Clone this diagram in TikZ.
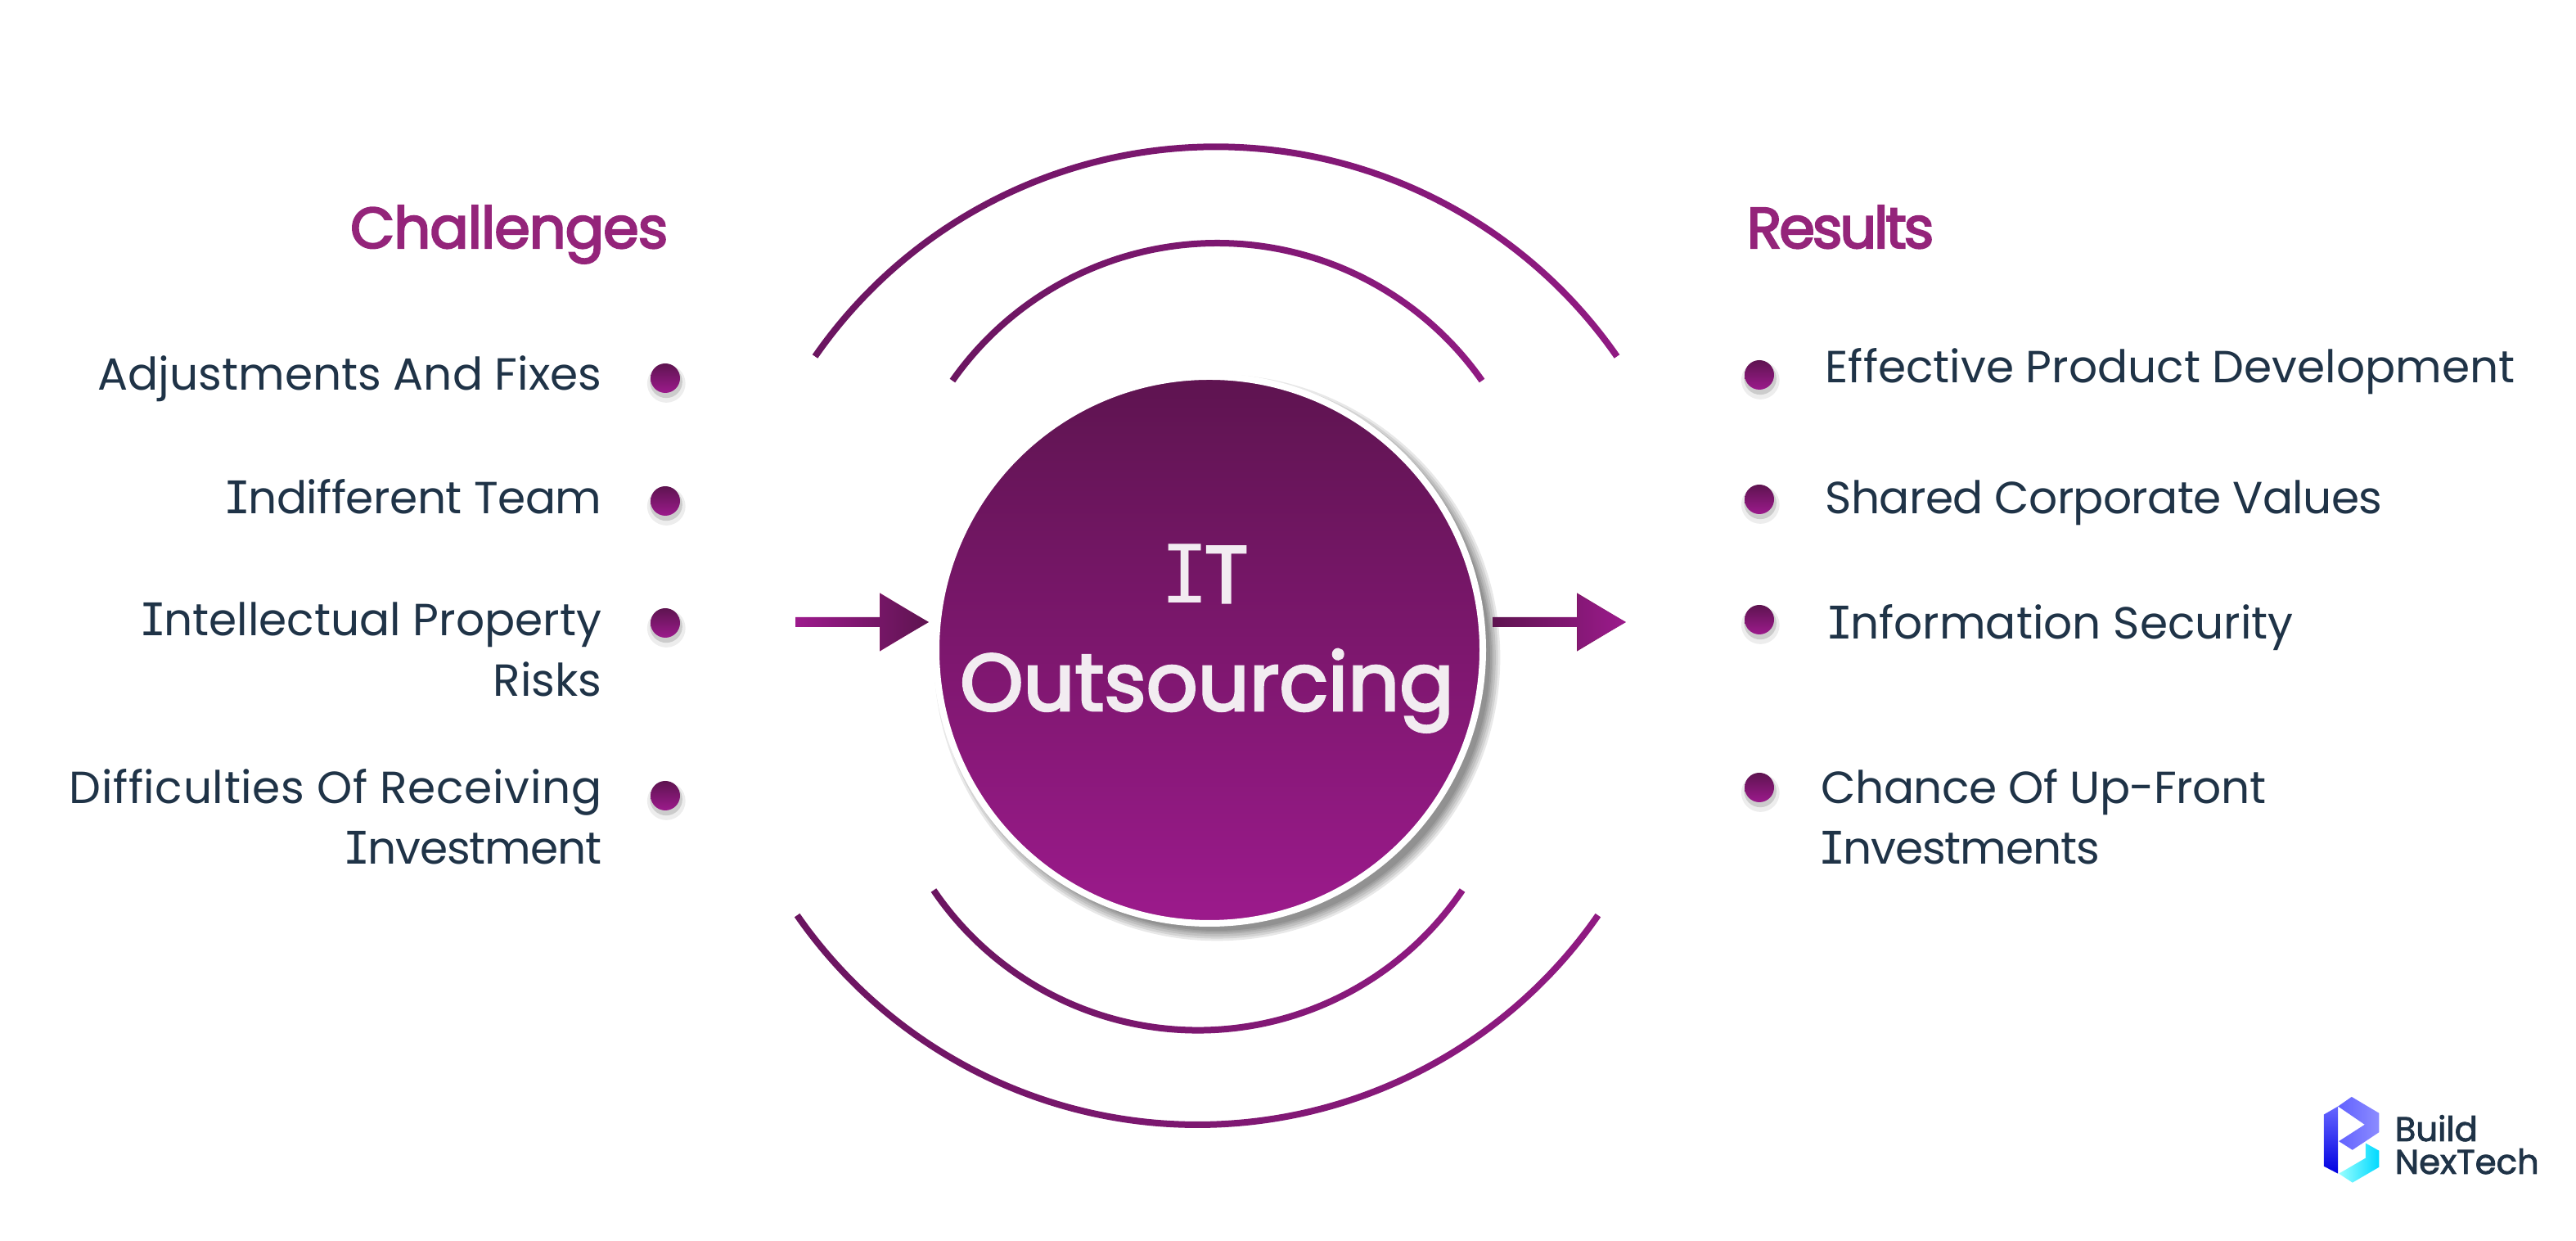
\documentclass[tikz,border=0pt]{standalone}
\usepackage{fontspec}
\setmainfont{Poppins}
\newfontfamily\slabfont{DejaVu Sans Mono}
\usepackage{xcolor}
\usetikzlibrary{shadows, arrows.meta, positioning}

\definecolor{plumdark}{HTML}{5E1450}
\definecolor{plummid}{HTML}{7F1763}
\definecolor{plumlight}{HTML}{9C1A8C}
\definecolor{arcleft}{HTML}{6B1560}
\definecolor{arcright}{HTML}{901A82}
\definecolor{headcol}{HTML}{94247A}
\definecolor{inkcol}{HTML}{1F3347}

% slab capital I of the label font
\newcommand{\slabI}{{\slabfont\kern-.06em I\kern-.06em}}
% letter spacing of one label
\newcommand{\ls}[1]{\addfontfeature{LetterSpace=#1}}
% arc as a thin shaded sector: centre, radius, start, end
\newcommand{\ringarc}[4]{%
    \shade[left color=arcleft, right color=arcright]
        ([shift={(#1)}]#3:{#2+.04}) arc[start angle=#3, end angle=#4, radius=#2+.04]
        -- ([shift={(#1)}]#4:{#2-.04}) arc[start angle=#4, end angle=#3, radius=#2-.04] -- cycle;}

\begin{document}
\begin{tikzpicture}[
    hubshadow/.style={general shadow={shadow xshift=.09cm, shadow yshift=-.09cm, shadow scale=#1, opacity=.09, fill=black}},
    hub/.style={circle, draw=white, line width=.08cm, minimum size=6.68cm, inner sep=0, outer sep=0,
        top color=plumdark, bottom color=plumlight,
        hubshadow=1.036, hubshadow=1.028, hubshadow=1.02, hubshadow=1.012, hubshadow=1.006, hubshadow=1},
    hubtext/.style={font=\fontsize{28}{37.5}\selectfont\addfontfeature{FakeBold=3}, text=white!92!plumdark, align=center},
    dot/.style={circle, minimum size=.36cm, inner sep=0, top color=plumdark, bottom color=plumlight,
        general shadow={shadow xshift=.01cm, shadow yshift=-.05cm, shadow scale=1.3, opacity=.07, fill=black},
        general shadow={shadow xshift=.01cm, shadow yshift=-.04cm, shadow scale=1.1, opacity=.14, fill=black}},
    title/.style={font=\fontsize{20}{24}\selectfont\addfontfeature{FakeBold=3}, text=headcol, inner sep=0},
    chal/.style={font=\fontsize{15.65}{21.3}\selectfont, text=inkcol, align=right, inner sep=0, anchor=base east},
    res/.style={font=\fontsize{15.65}{21.3}\selectfont, text=inkcol, align=left, inner sep=0, anchor=base west},
    arr/.style={-{Triangle[length=.6cm, width=.68cm]}, line width=.12cm, color=plummid},
    logotext/.style={font=\fontsize{11.9}{11.4}\selectfont\addfontfeature{FakeBold=2}, text=inkcol, align=left, inner sep=0, anchor=base west}
]
    \useasboundingbox (0,0) rectangle (31.48,15.16);

    % Arcs round the hub
    \ringarc{14.86,7.40}{5.967}{34.8}{145.2}
    \ringarc{14.875,8.235}{3.955}{35.1}{144.9}
    \ringarc{14.64,6.48}{3.906}{-145.8}{-34.2}
    \ringarc{14.635,7.38}{5.96}{-145.2}{-34.8}

    % Hub
    \node[hub] (hub) at (14.78,7.22) {};
    \node[hubtext, anchor=base] (hubtext) at (14.75,6.48) {\slabI T\\Outsourcing};

    % Arrows in and out
    \coordinate (arrowin) at (9.72,7.56);
    \coordinate (arrowinend) at (11.35,7.56);
    \coordinate (arrowout) at (18.24,7.56);
    \coordinate (arrowoutend) at (19.87,7.56);
    \draw[arr] (arrowin) -- (arrowinend);
    \draw[arr] (arrowout) -- (arrowoutend);
    \shade[left color=plumlight, right color=plumdark] (arrowin) ++(0,.06) -- ++(1.04,0) -- ++(0,.28)
        -- (arrowinend) -- ++(-.59,-.34) -- ++(0,.28) -- ++(-1.04,0) -- cycle;
    \shade[left color=plumdark, right color=plumlight] (arrowout) ++(0,.06) -- ++(1.04,0) -- ++(0,.28)
        -- (arrowoutend) -- ++(-.59,-.34) -- ++(0,.28) -- ++(-1.04,0) -- cycle;

    % Challenges column
    \node[title, anchor=base east] (chaltitle) at (8.17,12.13) {\ls{-1.5}Challenges};
    \node[chal] (chal1) at (7.36,10.39) {Adjustments And Fixes};
    \node[chal] (chal2) at (7.36,8.88) {\ls{-.9}\slabI ndifferent Team};
    \node[chal] (chal3) at (7.36,6.65) {\slabI ntellectual Property\\Risks};
    \node[chal] (chal4) at (7.36,4.60) {{\ls{1.15}Difficulties Of Receiving}\\{\ls{-2}\slabI nvestment}};
    \node[dot] (chaldot1) at (8.13,10.54) {};
    \node[dot] (chaldot2) at (8.13,9.04) {};
    \node[dot] (chaldot3) at (8.13,7.55) {};
    \node[dot] (chaldot4) at (8.13,5.44) {};

    % Results column
    \node[title, anchor=base west] (restitle) at (21.34,12.13) {\ls{-4.5}Results};
    \node[res] (res1) at (22.30,10.48) {Effective Product Development};
    \node[res] (res2) at (22.30,8.88) {\ls{-1.25}Shared Corporate Values};
    \node[res] (res3) at (22.34,7.35) {\slabI nformation Security};
    \node[res] (res4) at (22.25,4.60) {{\ls{-1}Chance Of Up-Front}\\{\ls{-2}\slabI nvestments}};
    \node[dot] (resdot1) at (21.50,10.58) {};
    \node[dot] (resdot2) at (21.50,9.06) {};
    \node[dot] (resdot3) at (21.50,7.59) {};
    \node[dot] (resdot4) at (21.50,5.54) {};

    % Logo
    \begin{scope}[shift={(27.8,2.16)}, x=.00333cm, y=-.00333cm]
        \shade[top color=blue!60!white, bottom color=blue!88!black]
            (232,155) -- (180,185) -- (180,375) -- (232,402) -- cycle;
        \shade[left color=blue!62!white, right color=blue!45!white]
            (232,155) -- (282,120) -- (383,180) -- (383,250) -- (285,315) -- (235,283) -- (330,222) -- cycle;
        \shade[left color=cyan!40!white, right color=cyan!85!blue]
            (333,290) -- (383,318) -- (383,378) -- (285,435) -- (235,402) -- (333,345) -- cycle;
    \end{scope}
    \node[logotext] (logobuild) at (29.26,1.22) {Build};
    \node[logotext] (logonext) at (29.26,.82) {NexTech};
\end{tikzpicture}
\end{document}
